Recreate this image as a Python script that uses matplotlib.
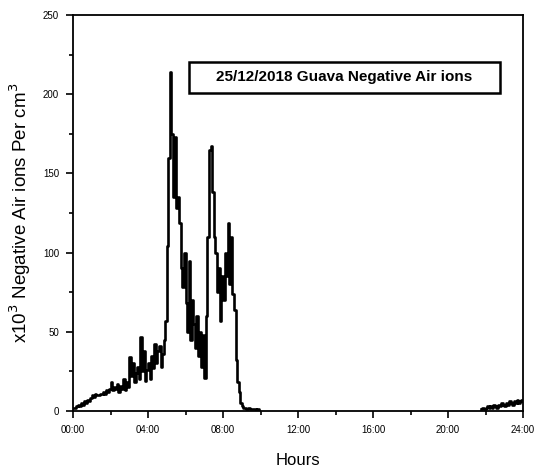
import numpy as np
import matplotlib
matplotlib.use("Agg")
import matplotlib.pyplot as plt
from matplotlib.patches import Rectangle
from matplotlib.ticker import MultipleLocator

plt.rcParams['font.family'] = ['Liberation Sans Narrow', 'Liberation Sans', 'DejaVu Sans']

# morning segment: 5-minute readings starting at 00:00 (x10^3 ions per cm^3)
morning_start_h = 0.0
step_h = 5 / 60
morning_values = [
    2, 2, 3, 4, 3, 5, 4, 6, 5, 7, 6, 8,            # 00h
    10, 9, 11, 10, 10, 11, 11, 12, 11, 13, 12, 14,  # 01h
    18, 13, 15, 14, 17, 12, 16, 14, 20, 13, 18, 15, # 02h
    34, 22, 30, 18, 24, 28, 20, 47, 25, 38, 19, 26, # 03h
    30, 20, 35, 27, 42, 30, 38, 41, 28, 36, 45, 57, # 04h
    104, 160, 214, 175, 135, 173, 128, 135, 119, 90, 78, 100,  # 05h
    68, 50, 95, 45, 70, 55, 40, 60, 35, 50, 28, 48,            # 06h
    21, 60, 110, 165, 167, 138, 110, 100, 75, 90, 57, 85,      # 07h
    70, 100, 85, 119, 80, 110, 74, 64, 32, 18, 12, 5,          # 08h
    3, 2, 2, 1, 2, 1, 1, 1, 1, 0, 1, 0,                        # 09h
]
# evening segment: 5-minute readings starting at 21:45
evening_start_h = 21.75
evening_values = [1, 2, 1, 2, 3, 2, 3, 2, 4, 3, 2, 4, 3, 5, 4, 3, 5, 4,
                  6, 5, 4, 6, 5, 7, 5, 6, 7, 6]

x_tick_pos = [0, 4, 8, 12, 16, 20, 24]
x_tick_labels = ["00:00", "04:00", "08:00", "12:00", "16:00", "20:00", "24:00"]
y_ticks = [0, 50, 100, 150, 200, 250]

title_text = "25/12/2018 Guava Negative Air ions"

fig = plt.figure(figsize=(5.38, 4.72), dpi=100)
ax = fig.add_axes([73/538, 1 - 411/472, 450/538, 396/472])

t1 = morning_start_h + step_h * np.arange(len(morning_values))
t2 = evening_start_h + step_h * np.arange(len(evening_values))
t2 = np.minimum(t2, 24)
ax.plot(t1, morning_values, color='black', lw=1.9, drawstyle='steps-post')
ax.plot(t2, evening_values, color='black', lw=1.9, drawstyle='steps-post')

ax.set_xlim(0, 24)
ax.set_ylim(0, 250)
ax.set_xticks(x_tick_pos)
ax.set_xticklabels(x_tick_labels)
ax.xaxis.set_minor_locator(MultipleLocator(2))
ax.set_yticks(y_ticks)
ax.yaxis.set_minor_locator(MultipleLocator(25))
ax.tick_params(axis='both', which='major', direction='out', length=5, width=1.2,
               labelsize=7, pad=5)
ax.tick_params(axis='both', which='minor', direction='out', length=3, width=1.2)
for s in ax.spines.values():
    s.set_linewidth(1.3)

ax.set_xlabel("Hours", fontsize=12, labelpad=13)
ax.set_ylabel(r"x10$^3$ Negative Air ions Per cm$^3$", fontsize=13.5, labelpad=7)

# title box
bx0 = (189 - 73) / 450
bx1 = (500 - 73) / 450
by0 = (411 - 93) / 396
by1 = (411 - 62) / 396
ax.add_patch(Rectangle((bx0, by0), bx1 - bx0, by1 - by0, transform=ax.transAxes,
                       facecolor='white', edgecolor='black', lw=1.8, zorder=5))
ax.text((bx0 + bx1) / 2, (by0 + by1) / 2, title_text, transform=ax.transAxes,
        ha='center', va='center', fontsize=11, fontweight='bold', zorder=6)

fig.savefig("out.png", dpi=100)
